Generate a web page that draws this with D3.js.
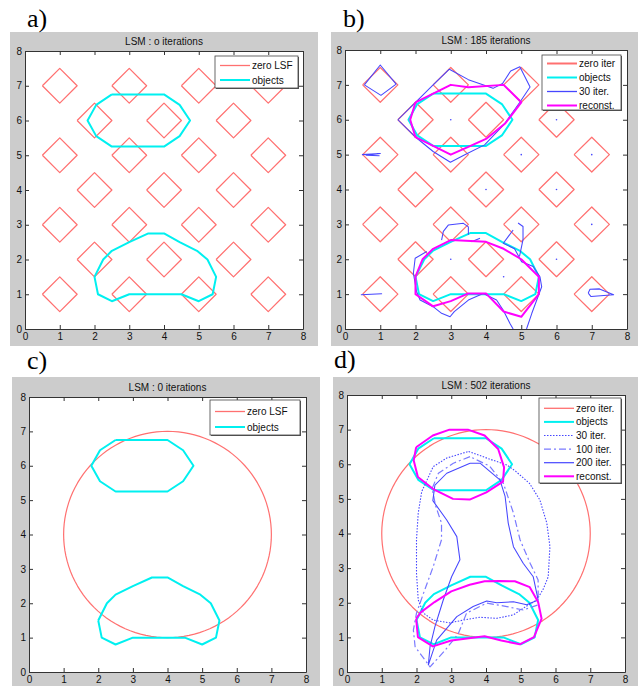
<!DOCTYPE html>
<html>
<head>
<meta charset="utf-8">
<script src="https://cdn.jsdelivr.net/npm/d3@7"></script>
<style>
body { margin:0; background:#fff; }
text { font-family:"Liberation Sans", Arial, sans-serif; }
</style>
</head>
<body>
<svg width="638" height="686"></svg>
<script>
// ---- data ----
var ticks = [0,1,2,3,4,5,6,7,8];

// initial level set for a) and b): small diamonds
var diamondCenters = [
  [1,7],[3,7],[5,7],[7,7],
  [2,6],[4,6],[6,6],
  [1,5],[3,5],[5,5],[7,5],
  [2,4],[4,4],[6,4],
  [1,3],[3,3],[5,3],[7,3],
  [2,2],[4,2],[6,2],
  [1,1],[3,1],[5,1],[7,1]
];
var diamondRadius = 0.5;

// initial level set for c) and d): one circle
var circleCenter = [4,4];
var circleRadius = 3;

// true objects
var objectUpper = [[2.5,6.75],[4,6.75],[4.45,6.45],[4.75,6],[4.45,5.55],[4,5.25],
  [2.5,5.25],[2.05,5.55],[1.8,6],[2.05,6.45],[2.5,6.75]];
var objectLower = [[2,1.5],[2.1,1],[2.5,0.8],[3,1],[4.5,1],[5,0.8],[5.4,1],[5.5,1.5],
  [5.25,2],[4.95,2.25],[4.45,2.5],[4,2.75],[3.55,2.75],[3,2.5],[2.5,2.25],[2.25,2],[2,1.5]];

// b) 185 iterations
var reconBUpper = [[2,6.5],[3,7],[3.5,6.93],[4.5,7],[5,6.5],[4.55,5.9],[4,5.45],
  [3.45,5.2],[3,5],[2.5,5.25],[2,5.5],[1.85,6],[2,6.5]];
var reconBLower = [[2,1.5],[2,1],[2.5,0.65],[3,0.8],[3.5,1.02],[4,1.02],[4.5,0.5],
  [5,0.35],[5.5,1],[5.5,1.5],[5,2],[4.5,2.3],[4,2.5],[3,2.55],[2.5,2.3],[2.2,2],[2,1.5]];
var iter30B = [
  [[0.55,7.0],[1.0,7.57],[1.45,7.02],[1.02,6.7],[0.55,7.0]],
  [[1.5,6.0],[2.0,6.5],[2.5,7.0],[2.96,7.45],[3.5,7.15],[4.2,6.9],[4.47,7.04],[4.7,7.4],
   [4.96,7.52],[5.25,6.94],[4.96,6.5],[4.5,5.85],[3.96,5.28],[3.44,5.02],[2.99,4.78],
   [2.5,5.09],[1.98,5.52],[1.5,6.0]],
  [[0.48,5.0],[1.0,5.03],[0.6,4.98],[0.98,4.97]],
  [[0.45,0.98],[1.04,1.01],[0.6,0.99]],
  [[6.9,1.03],[6.95,1.14],[7.22,1.15],[7.62,0.98],[6.98,0.93],[6.9,1.03]],
  [[2.32,2.22],[1.99,2.03],[1.94,1.6],[2.03,1.07],[2.13,0.83],[2.5,0.64],[2.74,0.45],
   [2.98,0.35],[3.1,0.5],[3.5,0.83],[3.92,1.02],[4.3,0.83],[4.49,0.54],[4.68,0.16],[4.77,0]],
  [[5.15,0],[5.3,0.45],[5.44,0.83],[5.58,1.21],[5.53,1.5],[5.34,1.79],[5.01,1.93],
   [4.81,2.3],[4.49,2.46],[4.63,2.65],[4.77,2.84]],
  [[4.95,2.08],[5.05,2.56],[5.05,2.94],[4.91,3.04]],
  [[2.74,2.55],[2.79,2.8],[2.93,2.98],[3.36,3.03],[3.5,2.93],[3.5,2.7]],
  [[3.59,2.5],[3.83,2.6]]
];
var dotsB = [[3,6],[6,6],[5,5],[7,5],[4,4],[6,4],[7,3],[3,2],[6,2],[4.5,1.5]];

// d) 502 iterations
var reconDUpper = [[1.99,6.49],[2.47,6.83],[2.95,7.0],[3.48,7.0],[3.96,6.83],[4.35,6.44],
  [4.52,5.91],[4.49,5.5],[4.01,5.19],[3.53,4.98],[3.05,5.0],[2.47,5.29],[2.04,5.63],
  [1.92,6.11],[1.99,6.49]];
var reconDLower = [[1.99,1.54],[2.04,1.01],[2.47,0.74],[3.0,0.91],[3.96,1.03],[4.44,0.91],
  [4.97,0.8],[5.38,1.01],[5.6,1.54],[5.5,2.02],[5.26,2.45],[4.83,2.62],[4.39,2.63],
  [3.96,2.62],[3.53,2.52],[3.0,2.33],[2.52,2.02],[2.13,1.73],[1.99,1.54]];
var iter30D = [[3.5,6.37],[4.1,6.15],[4.6,5.98],[4.85,5.8],[5.25,5.45],[5.55,4.97],[5.75,4.3],
  [5.84,3.62],[5.79,2.75],[5.65,2.4],[5.46,2.08],[5.07,1.84],[4.79,1.65],[4.31,1.55],
  [3.83,1.58],[3.35,1.5],[2.96,1.42],[2.48,1.5],[2.2,1.7],[2.05,2.08],[2.0,2.85],
  [2.0,3.82],[2.05,4.59],[2.15,5.21],[2.48,5.93],[2.87,6.18],[3.5,6.37]];
var iter100D = [[3.54,6.22],[3.06,6.03],[2.63,5.74],[2.45,5.3],[2.55,4.8],[2.72,4.3],
  [2.72,3.82],[2.48,3.04],[2.2,2.27],[2.0,1.7],[1.91,1.21],[1.96,0.73],[2.39,0.15],
  [2.8,0.6],[3.2,1.1],[3.44,1.7],[4.02,1.99],[4.6,1.89],[5.07,1.79],[5.5,1.94],
  [5.5,2.66],[5.27,3.14],[4.98,3.82],[4.79,4.59],[4.5,5.45],[4.1,5.95],[3.54,6.22]];
var iter200D = [[3.54,6.03],[2.87,5.74],[2.53,5.4],[2.47,4.95],[2.87,4.39],[3.16,3.91],
  [3.25,3.24],[3.01,2.75],[2.77,2.08],[2.53,1.31],[2.39,0.73],[2.34,0.2],[2.58,0.92],
  [3.16,1.6],[3.63,1.89],[4.02,2.05],[4.31,2.0],[4.79,2.03],[5.17,1.94],[5.5,2.08],
  [5.36,2.75],[5.07,3.14],[4.79,3.62],[4.64,4.3],[4.55,5.07],[4.4,5.55],[3.83,6.03],[3.54,6.03]];

// ---- styles ----
var red = "#ff7070", cyan = "#00f0f0", magenta = "#ff00ff", blue = "#4646ff", lightBlue = "#7a7aff";

var diamonds = diamondCenters.map(function(c) {
  var r = diamondRadius;
  return [[c[0]-r,c[1]],[c[0],c[1]+r],[c[0]+r,c[1]],[c[0],c[1]-r],[c[0]-r,c[1]]];
});
var circle = d3.range(0, 361, 3).map(function(a) {
  var t = a * Math.PI / 180;
  return [circleCenter[0] + circleRadius*Math.cos(t), circleCenter[1] + circleRadius*Math.sin(t)];
});

var panels = [
  { tag:"a)", tagX:27, tagY:27, bg:{x:10,y:32,w:308,h:314}, plot:{x:25,y:51,w:278,h:278},
    title:"LSM : o iterations",
    layers:[
      {paths:diamonds, color:red, width:1.25},
      {paths:[objectUpper,objectLower], color:cyan, width:2}
    ],
    legend:{x:215,y:56,w:83,h:32,row:14.5,first:9.5,items:[
      {label:"zero LSF", color:red, width:1.3},
      {label:"objects", color:cyan, width:2}]}
  },
  { tag:"b)", tagX:343, tagY:27, bg:{x:331,y:32,w:307,h:314}, plot:{x:345,y:50,w:282,h:279},
    title:"LSM : 185 iterations",
    layers:[
      {paths:diamonds, color:red, width:1.25},
      {paths:[objectUpper,objectLower], color:cyan, width:2},
      {paths:iter30B, color:blue, width:1.05},
      {paths:[reconBUpper,reconBLower], color:magenta, width:2}
    ],
    dots:dotsB,
    legend:{x:542,y:55,w:79,h:55,row:14,first:8.5,items:[
      {label:"zero iter", color:red, width:2},
      {label:"objects", color:cyan, width:2},
      {label:"30 iter.", color:blue, width:1.3},
      {label:"reconst.", color:magenta, width:2}]}
  },
  { tag:"c)", tagX:27, tagY:369, bg:{x:12,y:377,w:308,h:309}, plot:{x:29,y:397,w:277,h:275},
    title:"LSM : 0 iterations",
    layers:[
      {paths:[circle], color:red, width:1.2},
      {paths:[objectUpper,objectLower], color:cyan, width:2}
    ],
    legend:{x:210,y:400,w:90,h:35,row:15.5,first:11.5,items:[
      {label:"zero LSF", color:red, width:1.3},
      {label:"objects", color:cyan, width:2}]}
  },
  { tag:"d)", tagX:334, tagY:368, bg:{x:333,y:377,w:305,h:309}, plot:{x:347,y:395,w:278,h:277},
    title:"LSM : 502 iterations",
    layers:[
      {paths:[circle], color:red, width:1.2},
      {paths:[objectUpper,objectLower], color:cyan, width:2},
      {paths:[iter30D], color:blue, width:1.1, dash:"1.5,1.5"},
      {paths:[iter100D], color:lightBlue, width:1.2, dash:"7,3,2,3"},
      {paths:[iter200D], color:blue, width:1.05},
      {paths:[reconDUpper,reconDLower], color:magenta, width:2}
    ],
    legend:{x:539,y:398,w:82,h:85,row:13.6,first:10.3,items:[
      {label:"zero iter.", color:red, width:1.3},
      {label:"objects", color:cyan, width:2},
      {label:"30 iter.", color:blue, width:1.1, dash:"1.5,1.5"},
      {label:"100 iter.", color:lightBlue, width:1.2, dash:"7,3,2,3"},
      {label:"200 iter.", color:blue, width:1.2},
      {label:"reconst.", color:magenta, width:2}]}
  }
];

var svg = d3.select("svg");

var drawPanel = function(p, idx)
{
  var g = svg.append("g");

  g.append("rect")
   .attr("x",p.bg.x).attr("y",p.bg.y)
   .attr("width",p.bg.w).attr("height",p.bg.h)
   .attr("fill","#cccccc");

  svg.append("text")
     .attr("x",p.tagX).attr("y",p.tagY)
     .style("font-family","'Liberation Serif','Times New Roman',serif")
     .style("font-size","26px")
     .text(p.tag);

  var xScale = d3.scaleLinear().domain([0,8]).range([p.plot.x, p.plot.x+p.plot.w]);
  var yScale = d3.scaleLinear().domain([0,8]).range([p.plot.y+p.plot.h, p.plot.y]);

  g.append("rect")
   .attr("x",p.plot.x).attr("y",p.plot.y)
   .attr("width",p.plot.w).attr("height",p.plot.h)
   .attr("fill","#fff");

  g.append("clipPath").attr("id","clip"+idx)
   .append("rect")
   .attr("x",p.plot.x).attr("y",p.plot.y)
   .attr("width",p.plot.w).attr("height",p.plot.h);

  var drawLine = d3.line()
      .x(function(d){ return xScale(d[0]); })
      .y(function(d){ return yScale(d[1]); });

  var plotLand = g.append("g").attr("clip-path","url(#clip"+idx+")");

  p.layers.forEach(function(layer)
  {
    plotLand.append("g")
      .selectAll("path")
      .data(layer.paths)
      .enter()
      .append("path")
      .attr("d",drawLine)
      .attr("fill","none")
      .attr("stroke",layer.color)
      .attr("stroke-width",layer.width)
      .attr("stroke-dasharray",layer.dash || null)
      .attr("stroke-linejoin","round");
  });

  if (p.dots)
  {
    plotLand.append("g")
      .selectAll("circle")
      .data(p.dots)
      .enter()
      .append("circle")
      .attr("cx",function(d){ return xScale(d[0]); })
      .attr("cy",function(d){ return yScale(d[1]); })
      .attr("r",0.8)
      .attr("fill",blue);
  }

  // axes, ticks inward on all four sides
  var axisColor = "#333";
  var bottom = g.append("g")
    .attr("transform","translate(0,"+(p.plot.y+p.plot.h)+")")
    .call(d3.axisBottom(xScale).tickValues(ticks).tickSizeInner(-4).tickSizeOuter(0).tickPadding(4));
  var left = g.append("g")
    .attr("transform","translate("+p.plot.x+",0)")
    .call(d3.axisLeft(yScale).tickValues(ticks).tickSizeInner(-4).tickSizeOuter(0).tickPadding(3));
  var top = g.append("g")
    .attr("transform","translate(0,"+p.plot.y+")")
    .call(d3.axisTop(xScale).tickValues(ticks).tickSizeInner(-4).tickSizeOuter(0).tickFormat(""));
  var right = g.append("g")
    .attr("transform","translate("+(p.plot.x+p.plot.w)+",0)")
    .call(d3.axisRight(yScale).tickValues(ticks).tickSizeInner(-4).tickSizeOuter(0).tickFormat(""));

  [bottom,left,top,right].forEach(function(a)
  {
    a.select(".domain").attr("stroke",axisColor);
    a.selectAll(".tick line").attr("stroke",axisColor);
    a.selectAll(".tick text")
     .attr("fill","#111")
     .style("font-family","'Liberation Sans',Arial,sans-serif")
     .style("font-size","10px");
  });

  g.append("text")
   .attr("x",p.plot.x+p.plot.w/2)
   .attr("y",p.plot.y-6)
   .attr("text-anchor","middle")
   .style("font-size","10px")
   .attr("fill","#111")
   .text(p.title);

  // legend
  var L = p.legend;
  var legend = g.append("g").classed("legend",true);
  legend.append("rect")
    .attr("x",L.x+1).attr("y",L.y+1)
    .attr("width",L.w).attr("height",L.h)
    .attr("fill","#555");
  legend.append("rect")
    .attr("x",L.x).attr("y",L.y)
    .attr("width",L.w).attr("height",L.h)
    .attr("fill","#fff")
    .attr("stroke","#444")
    .attr("stroke-width",0.8);

  var rows = legend.selectAll("g.legendLine")
    .data(L.items)
    .enter()
    .append("g")
    .classed("legendLine",true)
    .attr("transform",function(d,i){ return "translate("+L.x+","+(L.y+L.first+i*L.row)+")"; });

  rows.append("line")
    .attr("x1",5).attr("x2",35)
    .attr("y1",0).attr("y2",0)
    .attr("stroke",function(d){ return d.color; })
    .attr("stroke-width",function(d){ return d.width; })
    .attr("stroke-dasharray",function(d){ return d.dash || null; });

  rows.append("text")
    .attr("x",37).attr("y",3.5)
    .style("font-size","10px")
    .attr("fill","#111")
    .text(function(d){ return d.label; });
};

panels.forEach(drawPanel);
</script>
</body>
</html>
